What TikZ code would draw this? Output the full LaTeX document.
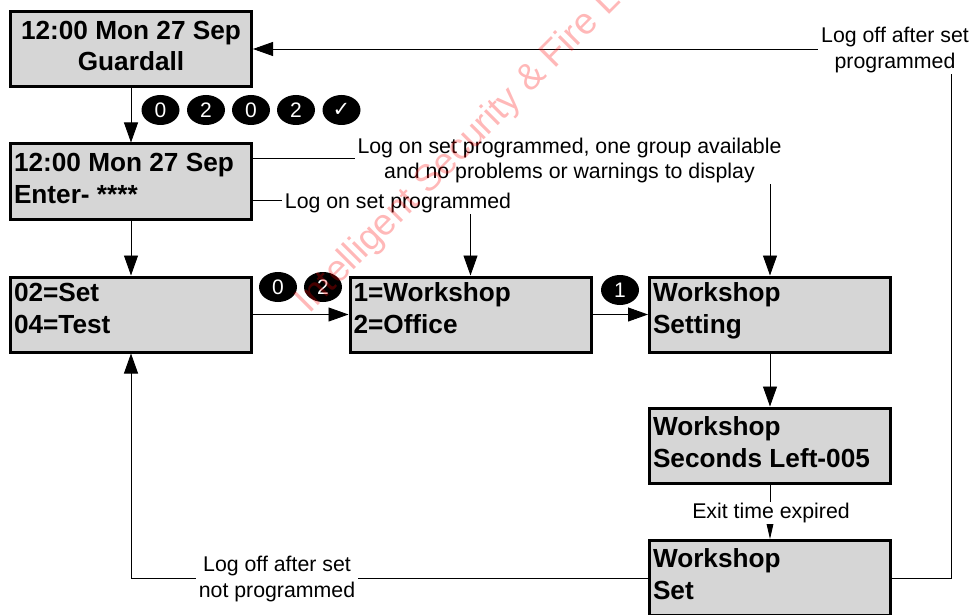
\documentclass[tikz,border=0pt]{standalone}
\usepackage{fontspec}
\setmainfont{Liberation Sans}
\newfontfamily\symfont{DejaVu Sans}
\usetikzlibrary{arrows.meta,shapes.geometric}
\newcommand{\lcdtext}[4]{\parbox[c][75pt][t]{234pt}{\vspace*{0pt}\fontsize{26.2pt}{#4pt}\selectfont\bfseries\vskip#3pt #1#2}}
\newcommand{\lcdl}[3][0]{\lcdtext{\raggedright}{#2\\#3}{#1}{32}}
\newcommand{\lcdc}[3][0]{\lcdtext{\centering}{#2\\#3}{#1}{31}}
\tikzset{
  lcd/.style={draw=black,fill=screen,line width=3pt,rectangle,minimum width=241pt,minimum height=75pt,inner sep=0pt},
  key/.style={ellipse,fill=black,text=white,minimum width=38pt,minimum height=30pt,inner sep=0pt,font=\fontsize{21pt}{21pt}\selectfont},
  note/.style={fill=white,inner xsep=3pt,inner ysep=1pt,align=center,font=\fontsize{21.3pt}{25.5pt}\selectfont},
  flow/.style={draw=black,line width=0.9pt,-{Triangle[length=20pt,width=14pt]}},
  wm/.style={text=red,opacity=0.28,font=\fontsize{37pt}{37pt}\selectfont,rotate=45,anchor=base west,inner sep=0pt}
}
\definecolor{screen}{HTML}{D6D6D6}
\begin{document}
\begin{tikzpicture}[x=1pt,y=-1pt]
\useasboundingbox (0,0) rectangle (972,615);
\begin{scope}
\clip (0,0) rectangle (972,615);
\node[lcd] (b1) at (131,49) {\lcdc[10]{12:00 Mon 27 Sep}{Guardall}};
\node[lcd] (b2) at (131,181.5) {\lcdl[9]{12:00 Mon 27 Sep}{Enter- ****}};
\node[lcd] (b3) at (131,314.5) {\lcdl[6]{02=Set}{04=Test}};
\node[lcd] (b4) at (470.5,314.5) {\lcdl[6]{1=Workshop}{2=Office}};
\node[lcd] (b5) at (770,314.5) {\lcdl[6]{Workshop}{Setting}};
\node[lcd] (b6) at (770,445.5) {\lcdl[9]{Workshop}{Seconds Left-005}};
\node[lcd] (b7) at (770,578) {\lcdl[8]{Workshop}{Set}};

\draw[flow] (b1.south) -- (b2.north);
\draw[flow] (b2.south) -- (b3.north);
\draw[flow] (b3.east) -- (b4.west);
\draw[flow] (b4.east) -- (b5.west);
\draw[flow] (b5.south) -- (b6.north);
\draw[flow,-{Triangle[length=20pt,width=9pt]}] (b6.south) -- (b7.north);
\draw[flow] ([yshift=23.5pt]b2.east) -| (b5.north);
\draw[flow] ([yshift=-18.5pt]b2.east) -| (b4.north);
\draw[flow] (b7.east) -| (951,49) -- (b1.east);
\draw[flow] (b7.west) -| (b3.south);

\node[note] (n1) at (895,50) {Log off after set\\programmed};
\node[note] (n2) at (569.5,160.5) {Log on set programmed, one group available\\and no problems or warnings to display};
\node[note] (n3) at (398,203) {Log on set programmed};
\node[note] (n4) at (771,513) {Exit time expired};
\node[note] (n5) at (277,579) {Log off after set\\not programmed};

\node[key] (k1) at (160.5,110) {0};
\node[key] (k2) at (206,110) {2};
\node[key] (k3) at (251,110) {0};
\node[key] (k4) at (296,110) {2};
\node[key] (k5) at (341.5,110) {\symfont ✓};
\node[key] (k6) at (278,287) {0};
\node[key] (k7) at (323,287) {2};
\node[key] (k8) at (620,290) {1};

\node[wm] (wm) at (309,315) {Intelligent Security \& Fire L};
\end{scope}
\end{tikzpicture}
\end{document}
